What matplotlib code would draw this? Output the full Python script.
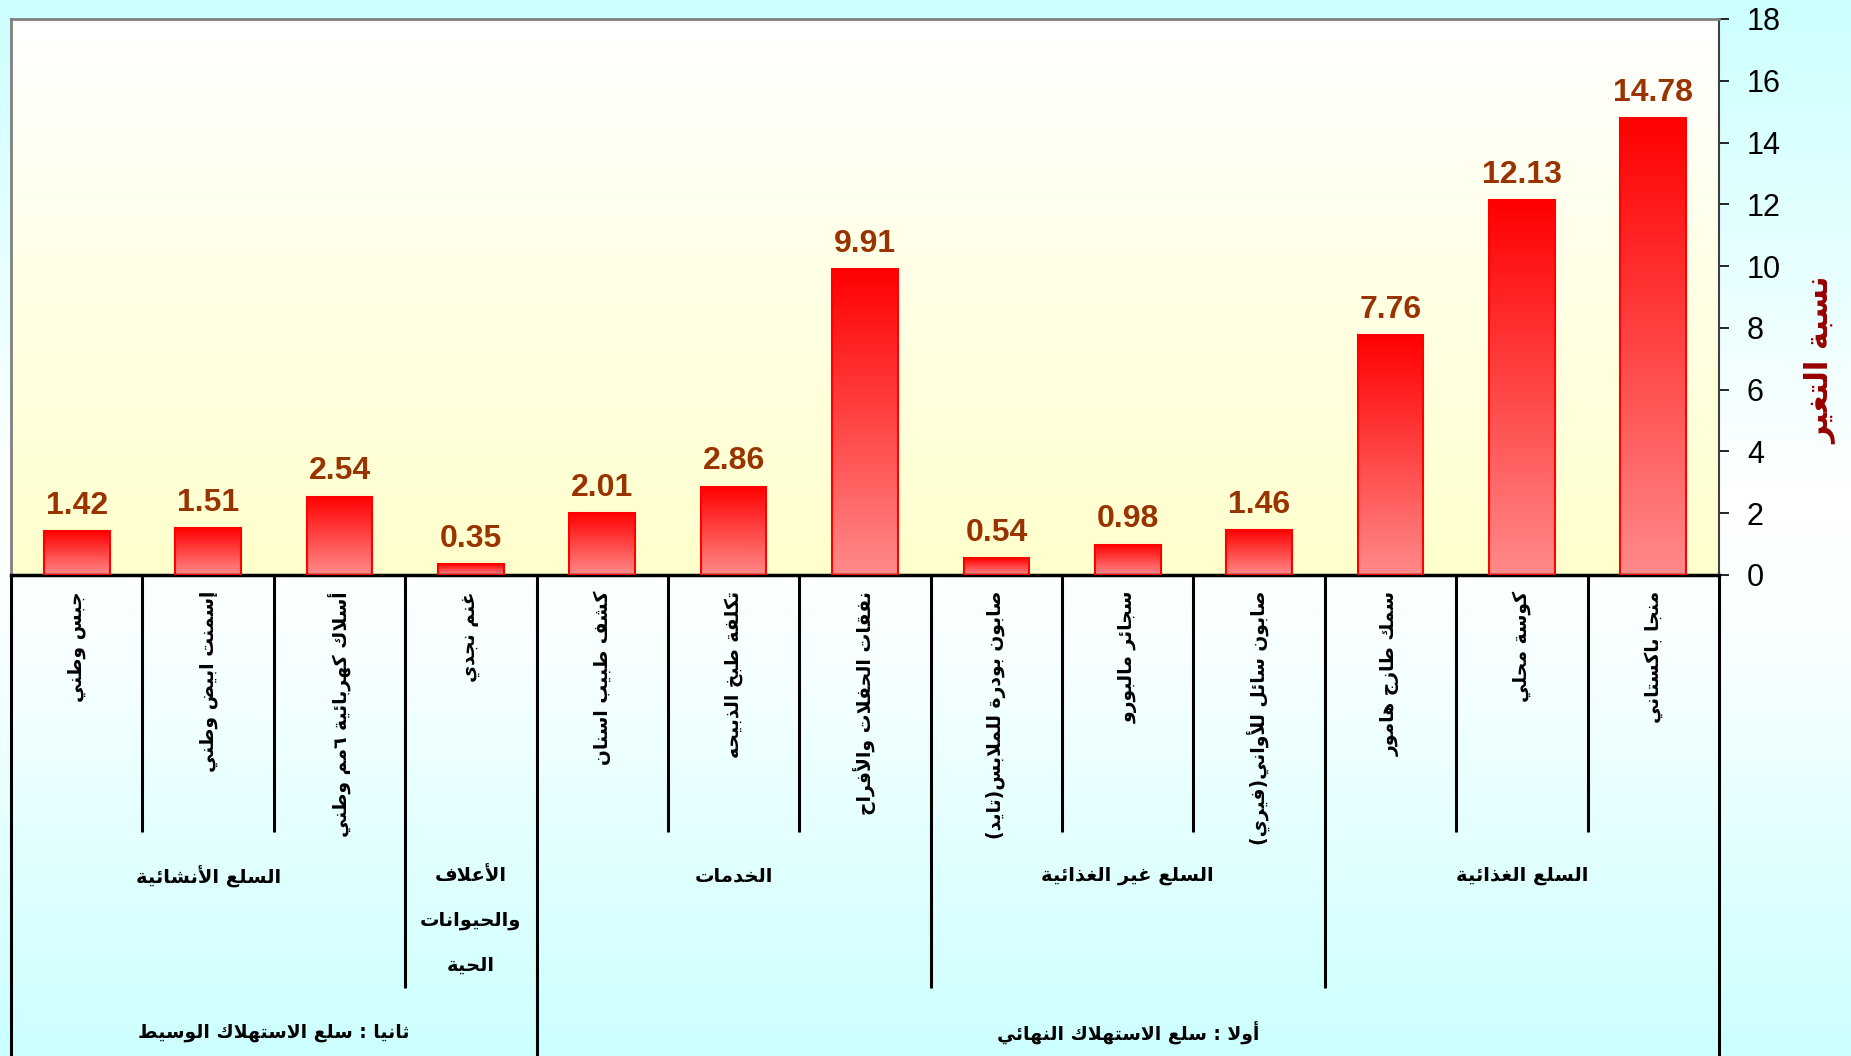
import numpy as np
import matplotlib
matplotlib.use("Agg")
import matplotlib.pyplot as plt
from matplotlib.colors import LinearSegmentedColormap

# ---------------- data ----------------
items = ["جبس وطني", "إسمنت ابيض وطني", "أسلاك كهربائية ٦مم وطني", "غنم نجدي",
         "كشف طبيب اسنان", "تكلفة طبخ الذبيحه", "نفقات الحفلات والأفراح",
         "صابون بودرة للملابس(تايد)", "سجائر مالبورو", "صابون سائل للأواني(فيري)",
         "سمك طازج هامور", "كوسة محلي", "منجا باكستاني"]
values = [1.42, 1.51, 2.54, 0.35, 2.01, 2.86, 9.91, 0.54, 0.98, 1.46, 7.76, 12.13, 14.78]

groups = ["السلع الأنشائية", "الأعلاف\nوالحيوانات\nالحية", "الخدمات",
          "السلع غير الغذائية", "السلع الغذائية"]
group_sizes = [3, 1, 3, 3, 3]

supergroups = ["ثانيا : سلع الاستهلاك الوسيط", "أولا : سلع الاستهلاك النهائي"]
supergroup_sizes = [4, 9]

y_ticks = [0, 2, 4, 6, 8, 10, 12, 14, 16, 18]
y_label = "نسبة التغير"

# ---------------- minimal Arabic shaping (presentation forms + visual order) ----------------
_AR = [('\u0621', 0xFE80, 1), ('\u0622', 0xFE81, 2), ('\u0623', 0xFE83, 2), ('\u0624', 0xFE85, 2),
       ('\u0625', 0xFE87, 2), ('\u0626', 0xFE89, 4), ('\u0627', 0xFE8D, 2), ('\u0628', 0xFE8F, 4),
       ('\u0629', 0xFE93, 2), ('\u062A', 0xFE95, 4), ('\u062B', 0xFE99, 4), ('\u062C', 0xFE9D, 4),
       ('\u062D', 0xFEA1, 4), ('\u062E', 0xFEA5, 4), ('\u062F', 0xFEA9, 2), ('\u0630', 0xFEAB, 2),
       ('\u0631', 0xFEAD, 2), ('\u0632', 0xFEAF, 2), ('\u0633', 0xFEB1, 4), ('\u0634', 0xFEB5, 4),
       ('\u0635', 0xFEB9, 4), ('\u0636', 0xFEBD, 4), ('\u0637', 0xFEC1, 4), ('\u0638', 0xFEC5, 4),
       ('\u0639', 0xFEC9, 4), ('\u063A', 0xFECD, 4), ('\u0641', 0xFED1, 4), ('\u0642', 0xFED5, 4),
       ('\u0643', 0xFED9, 4), ('\u0644', 0xFEDD, 4), ('\u0645', 0xFEE1, 4), ('\u0646', 0xFEE5, 4),
       ('\u0647', 0xFEE9, 4), ('\u0648', 0xFEED, 2), ('\u0649', 0xFEEF, 2), ('\u064A', 0xFEF1, 4)]
TABLE = {c: (s, n) for c, s, n in _AR}
LAM_ALEF = {'\u0622': 0xFEF5, '\u0623': 0xFEF7, '\u0625': 0xFEF9, '\u0627': 0xFEFB}
MIRROR = {'(': ')', ')': '('}


def _shape_line(s):
    ch = list(s)
    n = len(ch)
    res = []
    prev_joins = False
    i = 0
    while i < n:
        c = ch[i]
        if c not in TABLE:
            res.append(c)
            prev_joins = (c == '\u0640')
            i += 1
            continue
        if c == '\u0644' and i + 1 < n and ch[i + 1] in LAM_ALEF:
            res.append(chr(LAM_ALEF[ch[i + 1]] + (1 if prev_joins else 0)))
            prev_joins = False
            i += 2
            continue
        start, nf = TABLE[c]
        nxt = ch[i + 1] if i + 1 < n else None
        can_next = nf == 4 and (nxt in TABLE and nxt != '\u0621')
        if nf == 1:
            f = 0
        elif prev_joins and can_next:
            f = 3
        elif prev_joins:
            f = 1
        elif can_next:
            f = 2
        else:
            f = 0
        res.append(chr(start + f))
        prev_joins = can_next
        i += 1
    return ''.join(MIRROR.get(x, x) for x in reversed(res))


def ar(s):
    return '\n'.join(_shape_line(line) for line in s.split('\n'))


# ---------------- figure ----------------
W, H = 1851, 1056
fig = plt.figure(figsize=(W / 100, H / 100), dpi=100)

# figure background gradient (cyan -> white -> cyan)
bg = fig.add_axes([0, 0, 1, 1], zorder=-5)
bg_cmap = LinearSegmentedColormap.from_list(
    "bg", [(0.0, "#ccffff"), (0.47, "#ffffff"), (0.62, "#f8ffff"), (1.0, "#ccffff")])
bg.imshow(np.linspace(0, 1, 256).reshape(-1, 1), cmap=bg_cmap, aspect="auto",
          extent=(0, 1, 0, 1), origin="upper")
bg.set_xlim(0, 1)
bg.set_ylim(0, 1)
bg.axis("off")

left_px, right_px, top_px, zero_px = 11, 1719, 19, 575
ax = fig.add_axes([left_px / W, 1 - zero_px / H, (right_px - left_px) / W, (zero_px - top_px) / H])
ax.patch.set_visible(False)

# plot area gradient (white top -> light yellow bottom)
pa_cmap = LinearSegmentedColormap.from_list("pa", ["#ffffff", "#ffffcc"])
ax.imshow(np.linspace(0, 1, 256).reshape(-1, 1), cmap=pa_cmap, aspect="auto",
          extent=(0, 1, 0, 1), transform=ax.transAxes, origin="upper", zorder=0)

x = np.arange(len(items))
bars = ax.bar(x, values, width=0.5, color="none", edgecolor="#ff0000", linewidth=1.5, zorder=3)

bar_cmap = LinearSegmentedColormap.from_list("bar", ["#ff0000", "#ff8a8a"])
grad = np.linspace(0, 1, 256).reshape(-1, 1)
for b in bars:
    x0, w, h = b.get_x(), b.get_width(), b.get_height()
    im = ax.imshow(grad, cmap=bar_cmap, aspect="auto", extent=(x0, x0 + w, 0, h),
                   origin="upper", zorder=2)
    im.set_clip_path(b)

for xi, v in zip(x, values):
    ax.annotate(f"{v:.2f}", (xi, v), xytext=(0, 12.5), textcoords="offset points",
                ha="center", va="baseline", fontsize=23, fontweight="bold",
                color="#993300", family="Liberation Sans", zorder=4)

ax.set_xlim(-0.5, len(items) - 0.5)
ax.set_ylim(0, 18)
ax.set_yticks(y_ticks)
ax.set_xticks([])
ax.yaxis.tick_right()
ax.tick_params(axis="y", direction="out", length=7, width=1.2, pad=13, labelsize=22,
               colors="black")
for lab in ax.get_yticklabels():
    lab.set_family("Liberation Sans")

ax.spines["left"].set_color("#808080")
ax.spines["left"].set_linewidth(2)
ax.spines["top"].set_color("#808080")
ax.spines["top"].set_linewidth(2)
ax.spines["right"].set_color("#404040")
ax.spines["right"].set_linewidth(1.5)
ax.spines["bottom"].set_color("black")
ax.spines["bottom"].set_linewidth(2.5)

# ---------------- multi-level category axis ----------------
span = zero_px - top_px
def ay(px):
    return -(px - zero_px) / span

trans = ax.get_xaxis_transform()
y_l1, y_l2, y_bot = ay(832), ay(988), ay(1060)

g_edges = np.cumsum([0] + group_sizes)
s_edges = np.cumsum([0] + supergroup_sizes)
for k in range(len(items) + 1):
    if k in s_edges:
        yb = y_bot
    elif k in g_edges:
        yb = y_l2
    else:
        yb = y_l1
    ax.plot([k - 0.5, k - 0.5], [0, yb], transform=trans, color="black", lw=2.2,
            clip_on=False, zorder=5, solid_capstyle="butt")

arfont = dict(family="DejaVu Sans", fontweight="bold", color="black")
for xi, name in zip(x, items):
    ax.text(xi, ay(591), ar(name), transform=trans, rotation=90, ha="center", va="top",
            fontsize=13.5, **arfont)

for gi, name in enumerate(groups):
    cx = (g_edges[gi] + g_edges[gi + 1] - 1) / 2
    ax.text(cx, ay(866), ar(name), transform=trans, ha="center", va="top",
            fontsize=14, linespacing=2.7, **arfont)

for si, name in enumerate(supergroups):
    cx = (s_edges[si] + s_edges[si + 1] - 1) / 2
    ax.text(cx, ay(1032), ar(name), transform=trans, ha="center", va="center",
            fontsize=13.5, **arfont)

fig.text(1820 / W, 1 - 360 / H, ar(y_label), rotation=90, ha="center", va="center",
         fontsize=22, fontweight="bold", color="#990000", family="DejaVu Sans")

fig.savefig("out.png", dpi=100)
